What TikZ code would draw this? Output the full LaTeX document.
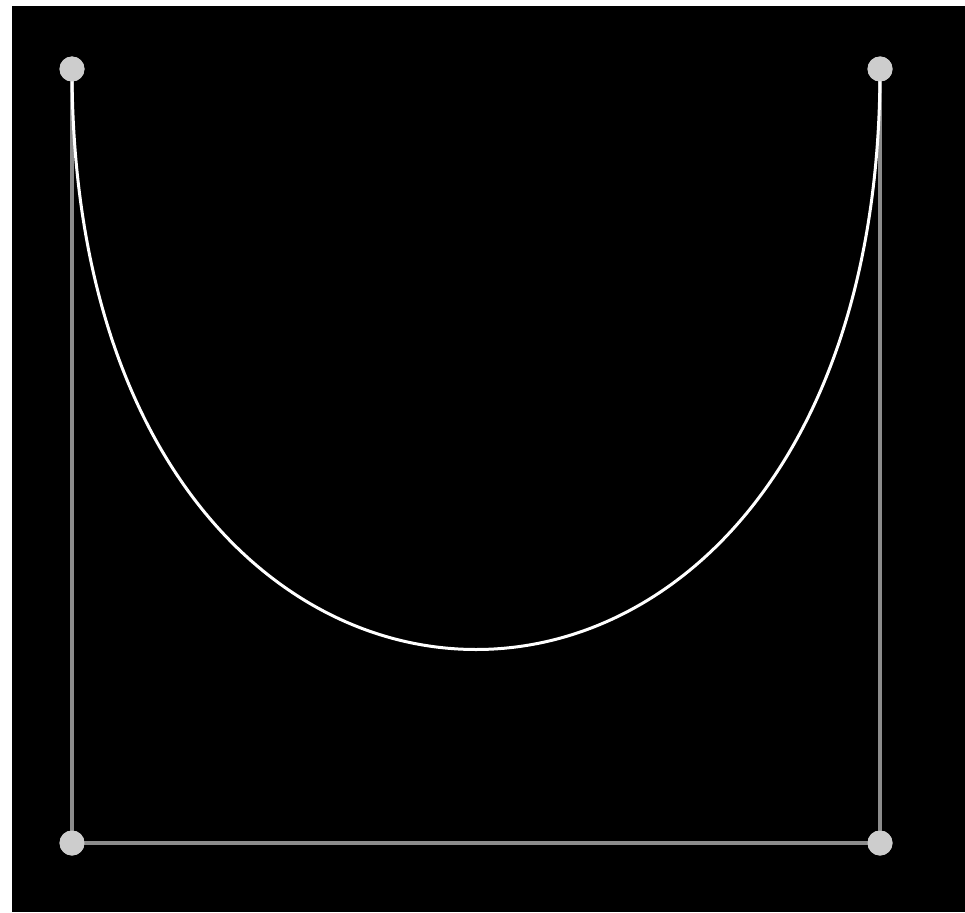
\documentclass[tikz,border=0pt]{standalone}
\begin{document}
\begin{tikzpicture}[x=1pt,y=-1pt,
  dot/.style={circle,fill={rgb,255:red,205;green,205;blue,205},inner sep=0pt,minimum size=25pt},
  guide/.style={draw={rgb,255:red,140;green,140;blue,140},line width=3.4pt},
  curveline/.style={draw=white,line width=3pt}]
\useasboundingbox (0,0) rectangle (965,912);
\fill[white] (0,0) rectangle (965,912);
\fill[black] (12,6) rectangle (965,912);
\coordinate (c1) at (72,843);
\coordinate (c2) at (880,843);
\node[dot] (p0) at (72,69) {};
\node[dot] (p1) at (72,843) {};
\node[dot] (p2) at (880,843) {};
\node[dot] (p3) at (880,69) {};
\path[guide] (p0.center) -- (p1.center) -- (p2.center) -- (p3.center);
\path[curveline] (p0.center) .. controls (c1) and (c2) .. (p3.center);
\node[dot] at (p0) {};
\node[dot] at (p1) {};
\node[dot] at (p2) {};
\node[dot] at (p3) {};
\end{tikzpicture}
\end{document}
